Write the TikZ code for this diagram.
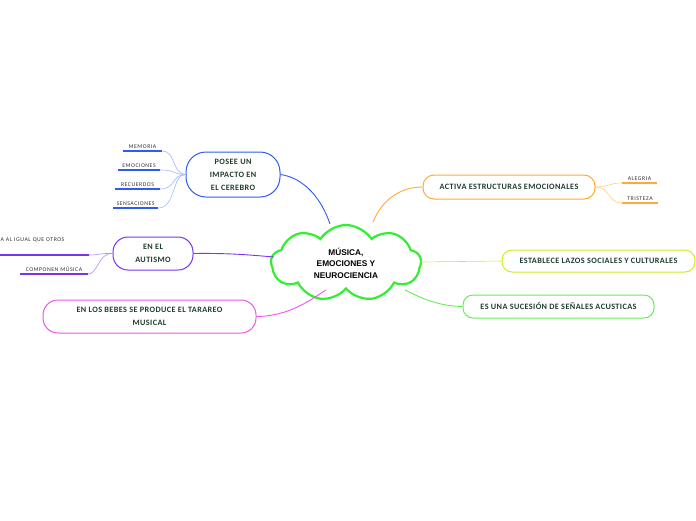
\documentclass[tikz,border=0pt]{standalone}
\usepackage{fontspec}
\setmainfont{Carlito}
\newfontfamily\cloudfont{Liberation Sans}
\newfontfamily\boxfont[LetterSpace=5]{Carlito}
\newfontfamily\leaffont[LetterSpace=9]{Carlito}
\usetikzlibrary{shapes.symbols}
\definecolor{txt}{HTML}{1F3D2C}
\definecolor{cblue}{HTML}{2F5BF0}
\definecolor{lblue}{HTML}{9DB8FF}
\definecolor{cpurp}{HTML}{7A33EE}
\definecolor{lpurp}{HTML}{B08CFF}
\definecolor{cmag}{HTML}{EE55EE}
\definecolor{corange}{HTML}{FFAA33}
\definecolor{lorange}{HTML}{FFCF80}
\definecolor{cyel}{HTML}{CCEE22}
\definecolor{cgreen}{HTML}{66EE55}
\definecolor{ccloud}{HTML}{33EE33}
\tikzset{
  mainbox/.style={draw, line width=1pt, fill=white, text=txt, align=center,
    font=\boxfont\fontsize{8.2}{13}\selectfont\bfseries, inner sep=0pt},
  leafbox/.style={inner sep=0pt, font=\leaffont\fontsize{5.8}{6.5}\selectfont, text=black!80,
    minimum height=9pt, anchor=south},
  uline/.style={line width=1.1pt},
  conn/.style={line width=0.9pt},
  lconn/.style={line width=0.6pt},
}
\begin{document}
\begin{tikzpicture}[x=1pt,y=-1pt]
\useasboundingbox (0,0) rectangle (696,520);
% center
\node[cloud, cloud puffs=9, cloud puff arc=115, aspect=2.1, draw=ccloud, line width=2.2pt,
  fill=white, minimum width=150pt, minimum height=76pt, inner sep=0pt, align=center,
  font=\cloudfont\fontsize{8.3}{11.5}\selectfont\bfseries] (c) at (346,263)
  {MÚSICA,\\EMOCIONES Y\\NEUROCIENCIA};
% main nodes
\node[mainbox, draw=cblue, rounded corners=20pt, minimum width=94pt, minimum height=45pt] (p) at (233,174.5) {POSEE UN\\IMPACTO EN\\EL CEREBRO};
\node[mainbox, draw=cpurp, rounded corners=15pt, minimum width=80pt, minimum height=33pt] (a) at (153,253.5) {EN EL\\AUTISMO};
\node[mainbox, draw=cmag, rounded corners=15pt, minimum width=213pt, minimum height=33pt] (b) at (149.5,316.5) {EN LOS BEBES SE PRODUCE EL TARAREO\\MUSICAL};
\node[mainbox, draw=corange, rounded corners=11pt, minimum width=172pt, minimum height=24pt] (e) at (509,187) {ACTIVA ESTRUCTURAS EMOCIONALES};
\node[mainbox, draw=cyel, rounded corners=10pt, minimum width=193pt, minimum height=22pt] (l) at (598.5,261) {ESTABLECE LAZOS SOCIALES Y CULTURALES};
\node[mainbox, draw=cgreen, rounded corners=10pt, minimum width=191pt, minimum height=23pt] (s) at (558.5,306.5) {ES UNA SUCESIÓN DE SEÑALES ACUSTICAS};
% connectors to center
\draw[conn, cblue] (p.east) .. controls (305,178) and (322,200) .. (330,224);
\draw[conn, corange] (e.west) .. controls (400,187) and (382,200) .. (373,222);
\draw[conn, cpurp] (a.east) .. controls (230,253) and (250,255) .. (274,257);
\draw[conn, cmag] (b.east) .. controls (290,316) and (310,300) .. (326,290);
\draw[conn, cyel, line width=0.6pt] (421,262) -- (l.west);
\draw[conn, cgreen] (405,290) .. controls (425,300) and (440,306) .. (s.west);
% leaves of POSEE
\node[leafbox, minimum width=39pt] (m1) at (142.5,151) {MEMORIA};
\node[leafbox, minimum width=42pt] (m2) at (139,170) {EMOCIONES};
\node[leafbox, minimum width=45pt] (m3) at (137.5,189) {RECUERDOS};
\node[leafbox, minimum width=45pt] (m4) at (135.5,208) {SENSACIONES};
\foreach \n/\yy in {m1/151,m2/170,m3/189,m4/208}{
  \draw[uline, cblue] (\n.south west) -- (\n.south east);
  \draw[lconn, lblue] (p.west) .. controls (172,174) and (176,\yy) .. (\n.south east);
}
% leaves of AUTISMO
\node[leafbox, anchor=south west, minimum width=88pt, text width=88pt, minimum height=18pt, align=left] (a1) at (0.5,255) {A AL IGUAL QUE OTROS\\[6pt]\mbox{}};
\node[leafbox, minimum width=68pt] (a2) at (54,274) {COMPONEN MÚSICA};
\draw[uline, cpurp] (-1,255) -- (a1.south east);
\draw[uline, cpurp] (a2.south west) -- (a2.south east);
\draw[lconn, lpurp] (a.west) .. controls (100,253) and (100,255) .. (a1.south east);
\draw[lconn, lpurp] (a.west) .. controls (98,253) and (98,274) .. (a2.south east);
% leaves of ACTIVA
\node[leafbox, minimum width=35pt] (t1) at (639.5,183) {ALEGRIA};
\node[leafbox, minimum width=36pt] (t2) at (640,203) {TRISTEZA};
\foreach \n/\yy in {t1/183,t2/203}{
  \draw[uline, corange] (\n.south west) -- (\n.south east);
  \draw[lconn, lorange] (e.east) .. controls (610,187) and (608,\yy) .. (\n.south west);
}
\end{tikzpicture}
\end{document}
